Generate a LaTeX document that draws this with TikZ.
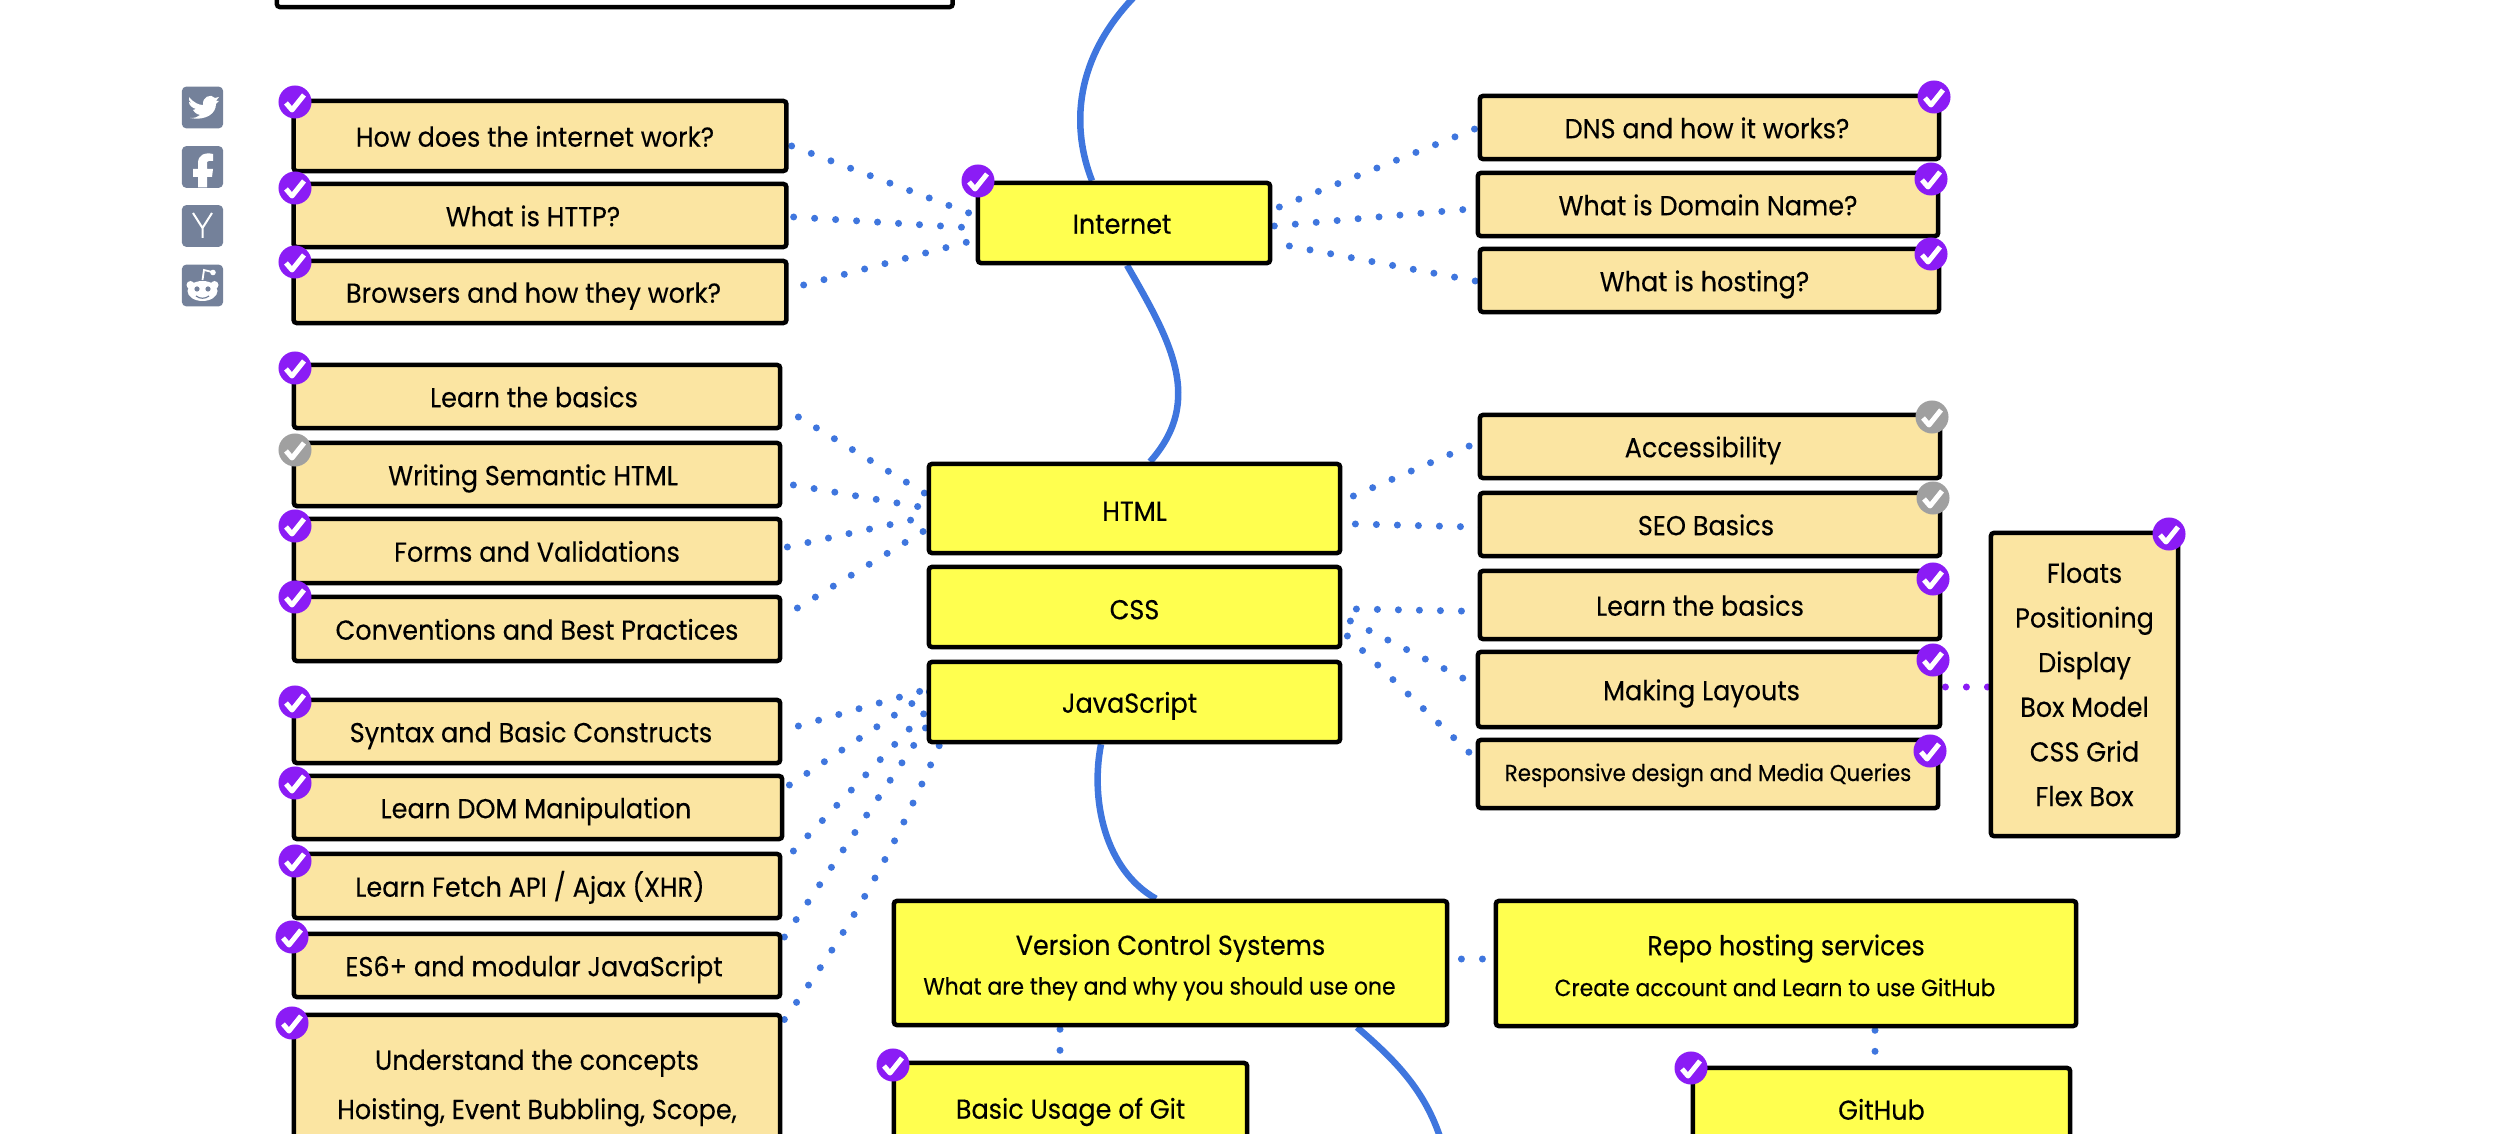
\documentclass[tikz,border=0pt]{standalone}
\usepackage{fontspec}
\setmainfont[FakeStretch=0.93,FakeBold=0.25]{Poppins}
\usetikzlibrary{positioning,calc,backgrounds}
\definecolor{roadYellow}{HTML}{FFFF4F}
\definecolor{roadTan}{HTML}{FBE5A2}
\definecolor{roadBlue}{HTML}{3F76DE}
\definecolor{roadPurple}{HTML}{8B1CF5}
\definecolor{roadGrey}{HTML}{A0A0A0}
\definecolor{roadSlate}{HTML}{74819A}
\tikzset{
  basebox/.style={
    draw=black, line width=0.045cm, rounded corners=0.03cm,
    inner sep=0pt, text=black, align=center,
    text height=6.1pt, text depth=0pt,
    font=\fontsize{7.8pt}{9pt}\selectfont,
  },
  manylines/.style={text height=, text depth=, font=\fontsize{7.8pt}{#1}\selectfont},
  topicbox/.style={basebox, fill=roadYellow},
  subbox/.style={basebox, fill=roadTan},
  nudge/.style={execute at end node={\hspace*{#1}}},
  donebadge/.style={
    circle, fill=#1, draw=none, minimum size=0.33cm, inner sep=0pt,
    path picture={
      \draw[white, line width=0.05cm, line join=round]
        ([shift={(-9,1)}]path picture bounding box.center)
        -- ([shift={(-3,8)}]path picture bounding box.center)
        -- ([shift={(9,-7)}]path picture bounding box.center);
    },
  },
  donebadge/.default=roadPurple,
  road/.style={draw=roadBlue, line width=0.065cm},
  dotlink/.style={
    draw=roadBlue, line width=0.07cm, line cap=round,
    dash pattern=on 0pt off 0.21cm, shorten >=-0.3cm,
  },
  socialbox/.style={
    fill=roadSlate, rounded corners=0.04cm, inner sep=0pt,
    minimum width=0.41cm, minimum height=0.415cm,
  },
}
\newcommand{\subline}[1]{{\fontsize{6.7pt}{8pt}\selectfont #1}}

\begin{document}
\begin{tikzpicture}[x=0.01cm, y=-0.01cm]
\useasboundingbox (0,0) rectangle (2500,1134);

% --- SOCIAL ICONS ---
\node[socialbox] (twitter) at (202.5,107.5) {};
\node[socialbox] (facebook) at (202.5,167) {};
\node[socialbox] (hacker) at (202.5,226) {};
\node[socialbox] (reddit) at (202.5,285.5) {};
\fill[white] (189,97) .. controls (194,103) and (199,105) .. (203,105)
  .. controls (202,97) and (211,93) .. (215,98) -- (219,97) -- (216,101) -- (219,101) -- (216,104)
  .. controls (216,113) and (207,121) .. (190,118)
  .. controls (195,118) and (198,117) .. (200,115)
  .. controls (196,114) and (194,112) .. (193,110) -- (196,109)
  .. controls (192,108) and (189,105) .. (189,102) -- (192,103)
  .. controls (189,101) and (188,99) .. (189,97) -- cycle;
\fill[white] (198,187.5) -- (198,177) -- (193,177) -- (193,169) -- (198,169) -- (198,163)
  .. controls (198,155) and (205,152) .. (213,154) -- (213,161) -- (209,161)
  .. controls (207,161) and (207,162) .. (207,164) -- (207,169) -- (213,169)
  -- (212,177) -- (207,177) -- (207,187.5) -- cycle;
\draw[white, line width=0.02cm] (193,213) -- (202.5,228) -- (212,213) (202.5,228) -- (202.5,238);
\fill[white] (202.5,291) ellipse (15 and 10);
\fill[white] (190.5,285) circle (4) (214.5,285) circle (4);
\draw[white, line width=0.018cm] (202.5,280) -- (204,270) -- (212,272);
\fill[white] (213,272.5) circle (2.8);
\fill[roadSlate] (197,289) circle (2.6) (208,289) circle (2.6);
\draw[roadSlate, line width=0.012cm] (196,296) .. controls (200,299) and (205,299) .. (209,296);

% --- PREVIOUS BOX, CUT BY THE PAGE ---
\node[basebox, fill=white, minimum width=6.755cm, minimum height=0.54cm] (prevbox) at (614.75,-20) {};

% --- INTERNET ---
\node[topicbox, minimum width=2.92cm, minimum height=0.80cm, nudge=0.04cm] (internet) at (1124,223) {Internet};
\node[subbox, minimum width=4.925cm, minimum height=0.70cm, nudge=0.10cm] (howinternet) at (540,136) {How does the internet work?};
\node[subbox, minimum width=4.925cm, minimum height=0.63cm, nudge=0.14cm] (http) at (540,215.5) {What is HTTP?};
\node[subbox, minimum width=4.925cm, minimum height=0.62cm, nudge=0.13cm] (browsers) at (540,292) {Browsers and how they work?};
\node[subbox, minimum width=4.59cm, minimum height=0.63cm, nudge=0.05cm] (dns) at (1709.5,127.5) {DNS and how it works?};
\node[subbox, minimum width=4.60cm, minimum height=0.63cm] (domain) at (1708,204.5) {What is Domain Name?};
\node[subbox, minimum width=4.59cm, minimum height=0.63cm, nudge=0.10cm] (hosting) at (1709.5,280.5) {What is hosting?};

% --- HTML, CSS, JAVASCRIPT ---
\node[topicbox, minimum width=4.11cm, minimum height=0.89cm, text height=7pt] (html) at (1134.5,508.5) {HTML};
\node[topicbox, minimum width=4.11cm, minimum height=0.80cm, text height=7pt] (css) at (1134.5,607) {CSS};
\node[topicbox, minimum width=4.11cm, minimum height=0.80cm, nudge=0.10cm] (js) at (1134.5,702) {JavaScript};
\node[subbox, minimum width=4.86cm, minimum height=0.63cm, nudge=0.06cm] (htmlbasics) at (537,396.5) {Learn the basics};
\node[subbox, minimum width=4.86cm, minimum height=0.63cm, nudge=0.08cm] (semantic) at (537,474.5) {Writing Semantic HTML};
\node[subbox, minimum width=4.86cm, minimum height=0.64cm] (forms) at (537,551) {Forms and Validations};
\node[subbox, minimum width=4.86cm, minimum height=0.64cm] (conventions) at (537,629) {Conventions and Best Practices};
\node[subbox, minimum width=4.60cm, minimum height=0.63cm, nudge=0.14cm] (accessibility) at (1710,446.5) {Accessibility};
\node[subbox, minimum width=4.60cm, minimum height=0.63cm, nudge=0.08cm] (seo) at (1710,524.5) {SEO Basics};
\node[subbox, minimum width=4.60cm, minimum height=0.68cm, nudge=0.20cm] (cssbasics) at (1710,605) {Learn the basics};
\node[subbox, minimum width=4.62cm, minimum height=0.75cm, nudge=0.15cm] (layouts) at (1709,689.5) {Making Layouts};
\node[subbox, minimum width=4.60cm, minimum height=0.68cm, text height=4pt, font=\fontsize{6.55pt}{8pt}\selectfont] (responsive) at (1708,774) {Responsive design and Media Queries};
\node[subbox, minimum width=1.87cm, minimum height=3.03cm, manylines=12.7pt] (layoutlist) at (2084.5,684.5) {Floats\\Positioning\\Display\\Box Model\\CSS Grid\\Flex Box};
\node[subbox, minimum width=4.86cm, minimum height=0.63cm, nudge=0.12cm] (syntax) at (537,731.5) {Syntax and Basic Constructs};
\node[subbox, minimum width=4.88cm, minimum height=0.63cm, nudge=0.04cm] (dom) at (538,807.5) {Learn DOM Manipulation};
\node[subbox, minimum width=4.86cm, minimum height=0.64cm, nudge=0.14cm] (fetch) at (537,886) {Learn Fetch API / Ajax (XHR)};
\node[subbox, minimum width=4.86cm, minimum height=0.63cm, nudge=0.06cm] (modules) at (537,965.5) {ES6+ and modular JavaScript};
\node[subbox, minimum width=4.86cm, minimum height=1.46cm, manylines=14pt] (concepts) at (537,1088) {Understand the concepts\\Hoisting, Event Bubbling, Scope,};

% --- GIT ---
\node[topicbox, minimum width=5.53cm, minimum height=1.24cm, manylines=11.3pt] (vcs) at (1170.5,963) {\rule{0pt}{8.4pt}Version Control Systems\\\subline{What are they and why you should use one\hspace*{0.22cm}}};
\node[topicbox, minimum width=5.80cm, minimum height=1.25cm, manylines=11.6pt] (repo) at (1786,963.5) {\rule{0pt}{7pt}Repo hosting services\\\subline{Create account and Learn to use GitHub\hspace*{0.22cm}}};
\node[topicbox, minimum width=3.53cm, minimum height=0.90cm] (gitbasics) at (1070.5,1108) {Basic Usage of Git};
\node[topicbox, minimum width=3.77cm, minimum height=0.82cm] (github) at (1881.5,1109) {GitHub};

% --- BADGES ---
\node[donebadge] (donehow) at (295,102) {};
\node[donebadge] (donehttp) at (295,188) {};
\node[donebadge] (donebrowsers) at (295,262) {};
\node[donebadge] (doneinternet) at (978,181) {};
\node[donebadge] (donedns) at (1934,97) {};
\node[donebadge] (donedomain) at (1931,179) {};
\node[donebadge] (donehosting) at (1931,254) {};
\node[donebadge] (donehtmlbasics) at (295,368) {};
\node[donebadge=roadGrey] (donesemantic) at (295,450) {};
\node[donebadge] (doneforms) at (295,526) {};
\node[donebadge] (doneconventions) at (295,597) {};
\node[donebadge=roadGrey] (doneaccess) at (1932,417) {};
\node[donebadge=roadGrey] (doneseo) at (1933,498) {};
\node[donebadge] (donecssbasics) at (1933,579) {};
\node[donebadge] (donelayouts) at (1933,660) {};
\node[donebadge] (doneresponsive) at (1930,751) {};
\node[donebadge] (donelist) at (2169,534) {};
\node[donebadge] (donesyntax) at (295,702) {};
\node[donebadge] (donedom) at (295,783) {};
\node[donebadge] (donefetch) at (295,861) {};
\node[donebadge] (donemodules) at (292,937) {};
\node[donebadge] (doneconcepts) at (292,1023) {};
\node[donebadge] (donegit) at (893,1065) {};
\node[donebadge] (donegithub) at (1691,1068) {};

\begin{scope}[on background layer]
% --- ROAD ---
\coordinate (roadtop) at (1136,-5);
\coordinate (roadend) at (1441,1140);
\draw[road] (roadtop) .. controls (1072,60) and (1072,130) .. ([shift={(-32,0)}]internet.north);
\draw[road] ([shift={(3,0)}]internet.south) .. controls (1170,340) and (1205,400) .. ([shift={(15.5,0)}]html.north);
\draw[road] ([shift={(-33.5,0)}]js.south) .. controls (1090,800) and (1105,870) .. ([shift={(-14.5,0)}]vcs.north);
\draw[road] ([shift={(186.5,0)}]vcs.south) .. controls (1395,1060) and (1425,1090) .. (roadend);

% --- DOTTED LINKS ---
\draw[dotlink] ([shift={(3,10)}]howinternet.east) -- ([shift={(-12,-12)}]internet.west);
\draw[dotlink] ([shift={(5,1.5)}]http.east) -- ([shift={(-18,4)}]internet.west);
\draw[dotlink] ([shift={(15,-7)}]browsers.east) -- ([shift={(-12,20)}]internet.west);
\draw[dotlink] ([shift={(7,-16)}]internet.east) -- ([shift={(-5.5,2.5)}]dns.west);
\draw[dotlink] ([shift={(2,3)}]internet.east) -- ([shift={(-17,5.5)}]domain.west);
\draw[dotlink] ([shift={(17,23)}]internet.east) -- ([shift={(-5,0)}]hosting.west);
\draw[dotlink] ([shift={(16,20.5)}]htmlbasics.east) -- ([shift={(-4,-16.5)}]html.west);
\draw[dotlink] ([shift={(11,10.5)}]semantic.east) -- ([shift={(-12,-2.5)}]html.west);
\draw[dotlink] ([shift={(5,-4)}]forms.east) -- ([shift={(-20,12.5)}]html.west);
\draw[dotlink] ([shift={(15,-21)}]conventions.east) -- ([shift={(-6,24.5)}]html.west);
\draw[dotlink] ([shift={(11,-12.5)}]html.east) -- ([shift={(-13,1.5)}]accessibility.west);
\draw[dotlink] ([shift={(13,15.5)}]html.east) -- ([shift={(-3,2.5)}]seo.west);
\draw[dotlink] ([shift={(14,2)}]css.east) -- ([shift={(-19,6)}]cssbasics.west);
\draw[dotlink] ([shift={(8,14)}]css.east) -- ([shift={(-15,-12.5)}]layouts.west);
\draw[dotlink] ([shift={(5,29)}]css.east) -- ([shift={(-8,-23)}]responsive.west);
\draw[dotlink, draw=roadPurple] ([shift={(3,-2.5)}]layouts.east) -- ([shift={(-6,2.5)}]layoutlist.west);
\draw[dotlink] ([shift={(16,-5.5)}]syntax.east) -- ([shift={(-9,-10)}]js.west);
\draw[dotlink] ([shift={(5,-22.5)}]dom.east) -- ([shift={(-17,3)}]js.west);
\draw[dotlink] ([shift={(11,-35)}]fetch.east) -- ([shift={(-4,13)}]js.west);
\draw[dotlink] ([shift={(2,-28.5)}]modules.east) -- ([shift={(-14,45)}]js.west);
\draw[dotlink] ([shift={(2,-68.5)}]concepts.east) to[bend right=6] ([shift={(13,43)}]js.west);
\draw[dotlink] ([shift={(12,-4)}]vcs.east) -- ([shift={(-16,-4.5)}]repo.west);
\draw[dotlink] ([shift={(-110.5,2)}]vcs.south) -- ([shift={(-10.5,0)}]gitbasics.north);
\draw[dotlink] ([shift={(89,2)}]repo.south) -- ([shift={(-6.5,0)}]github.north);
\end{scope}

\end{tikzpicture}
\end{document}
